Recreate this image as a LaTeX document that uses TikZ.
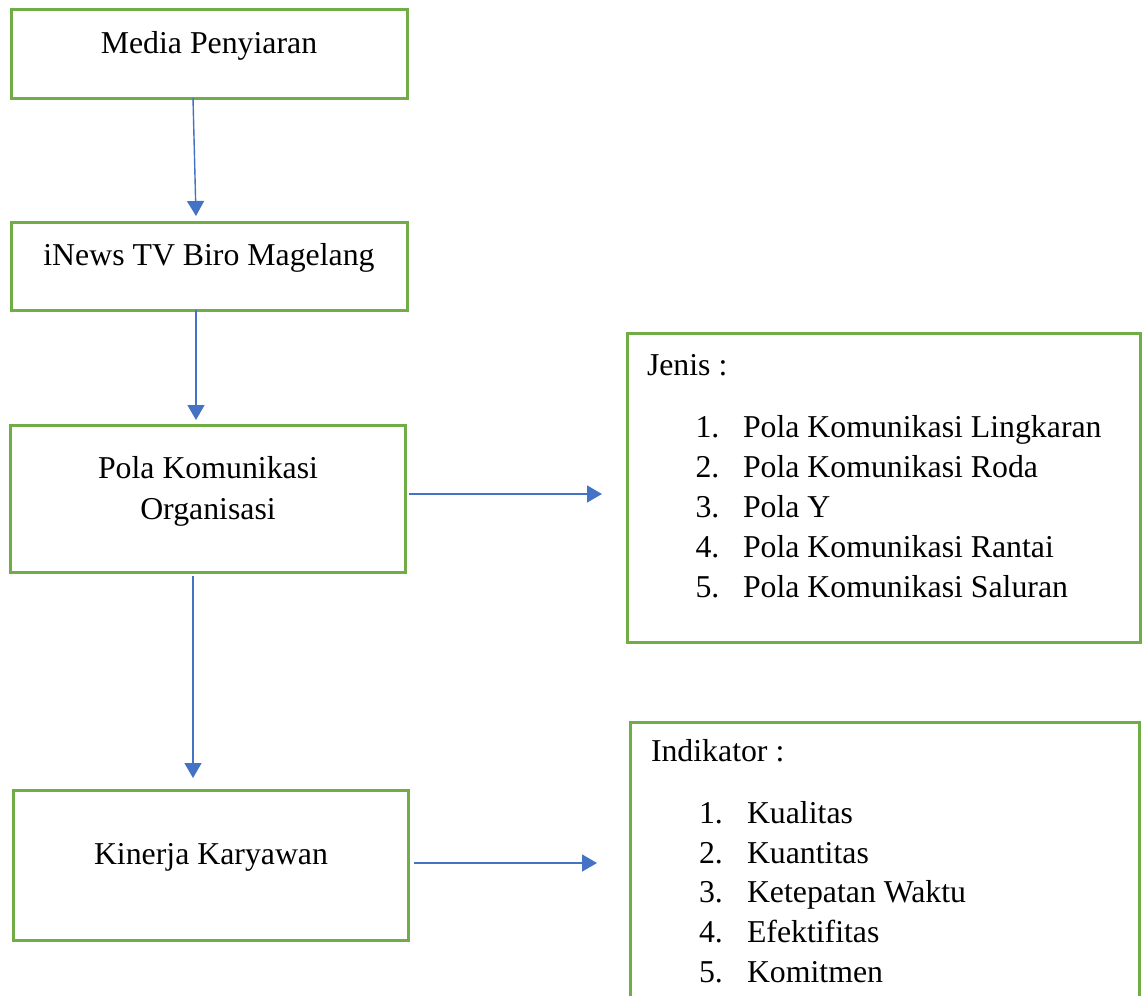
\documentclass[tikz,border=0pt]{standalone}
\usepackage{fontspec}
\setmainfont{Liberation Serif}
\usetikzlibrary{arrows.meta}
\definecolor{boxgreen}{HTML}{70AD47}
\definecolor{arrblue}{HTML}{4472C4}
\begin{document}
\begin{tikzpicture}[x=1pt,y=-1pt,
  box/.style={draw=boxgreen,line width=3pt,inner sep=0pt,outer sep=0pt,fill=none},
  arr/.style={draw=arrblue,line width=1.4pt,-{Triangle[width=17pt,length=15pt]}},
  txt/.style={inner sep=0pt,outer sep=0pt,font=\fontsize{31.8}{38}\selectfont},
  lbl/.style={txt,anchor=base west}]
\useasboundingbox (0,0) rectangle (1144,996);
\clip (0,0) rectangle (1144,996);
\fill[white] (0,0) rectangle (1144,996);
% boxes
\node[box,minimum width=396pt,minimum height=88.5pt] (b1) at (209,53.75) {};
\node[box,minimum width=396pt,minimum height=88pt] (b2) at (209,266) {};
\node[box,minimum width=395pt,minimum height=147pt] (b3) at (207.5,498.5) {};
\node[box,minimum width=395pt,minimum height=150pt] (b4) at (210.5,865) {};
\node[box,minimum width=513pt,minimum height=309pt] (b5) at (883.5,487.5) {};
\node[box,minimum width=509pt,minimum height=288pt] (b6) at (884.5,866) {};
% box texts
\node[txt,anchor=base] (t1) at (209,53) {Media Penyiaran};
\node[txt,anchor=base] (t2) at (209,265) {iNews TV Biro Magelang};
\node[txt,anchor=base] (t3a) at (208,478) {Pola Komunikasi};
\node[txt,anchor=base] (t3b) at (208,519) {Organisasi};
\node[txt,anchor=base] (t4) at (211,864) {Kinerja Karyawan};
% Jenis list
\node[lbl] (jh) at (647,375) {Jenis :};
\node[lbl] (jn1) at (695.5,437) {1.};
\node[lbl] (jt1) at (743,437) {Pola Komunikasi Lingkaran};
\node[lbl] (jn2) at (695.5,477) {2.};
\node[lbl] (jt2) at (743,477) {Pola Komunikasi Roda};
\node[lbl] (jn3) at (695.5,517) {3.};
\node[lbl] (jt3) at (743,517) {Pola Y};
\node[lbl] (jn4) at (695.5,557) {4.};
\node[lbl] (jt4) at (743,557) {Pola Komunikasi Rantai};
\node[lbl] (jn5) at (695.5,597) {5.};
\node[lbl] (jt5) at (743,597) {Pola Komunikasi Saluran};
% Indikator list
\node[lbl] (ih) at (651,761) {Indikator :};
\node[lbl] (in1) at (699,823) {1.};
\node[lbl] (it1) at (747,823) {Kualitas};
\node[lbl] (in2) at (699,863) {2.};
\node[lbl] (it2) at (747,863) {Kuantitas};
\node[lbl] (in3) at (699,902) {3.};
\node[lbl] (it3) at (747,902) {Ketepatan Waktu};
\node[lbl] (in4) at (699,942) {4.};
\node[lbl] (it4) at (747,942) {Efektifitas};
\node[lbl] (in5) at (699,982) {5.};
\node[lbl] (it5) at (747,982) {Komitmen};
% arrows
\draw[arr] ([xshift=-16pt]b1.south) -- ([xshift=-13pt,yshift=6pt]b2.north);
\draw[arr] ([xshift=-13pt]b2.south) -- ([xshift=-11.5pt,yshift=5pt]b3.north);
\draw[arr] ([xshift=-14.5pt,yshift=-4pt]b3.south) -- ([xshift=-17.5pt,yshift=12pt]b4.north);
\draw[arr] ([xshift=4pt,yshift=4.5pt]b3.east) -- ([xshift=-25pt,yshift=-6.5pt]b5.west);
\draw[arr] ([xshift=6pt,yshift=2pt]b4.east) -- ([xshift=-33pt,yshift=3pt]b6.west);
\end{tikzpicture}
\end{document}
